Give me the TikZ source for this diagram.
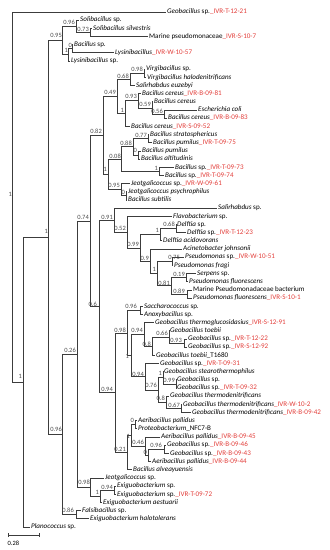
\documentclass[tikz,border=0pt]{standalone}
\usepackage{fontspec}
\setmainfont{Carlito}
\usetikzlibrary{calc}
\definecolor{ivr}{RGB}{226,62,58}
\definecolor{linegray}{RGB}{60,60,60}
\definecolor{bsgray}{RGB}{75,75,75}
\newcommand{\ivr}[1]{\textcolor{ivr}{\_#1}}
\newcommand{\leafnode}[4]{\node[leafbox] (#1) at (#2-1.2,{12+(#3-1)*8.175}) {#4};}
\newcommand{\inode}[4]{%
  \path ($(#3)!0.5!(#4)$) coordinate (#1m) (#2,0) coordinate (#1x);
  \coordinate (#1) at (#1x |- #1m);
  \draw[br] (#1) |- (#3);
  \draw[br] (#1) |- (#4);}
\newcommand{\bslab}[4]{\node[bsbox] (b#1) at (#2,#3) {#4};}
\begin{document}
\begin{tikzpicture}[x=1bp,y=-1bp,
  leafbox/.style={anchor=west,inner xsep=1.2bp,inner ysep=0pt,text height=4.8bp,text depth=1.4bp,font=\fontsize{7.1}{8}\selectfont},
  br/.style={draw=linegray,line width=0.9bp},
  bsbox/.style={anchor=east,inner sep=0pt,text=bsgray,font=\fontsize{6.5}{7}\selectfont}]
\useasboundingbox (0,0) rectangle (329,550);
% leaves
\leafnode{l1}{167}{1}{\textit{Geobacillus} sp.\ivr{IVR-T-12-21}}
\leafnode{l2}{80}{2}{\textit{Solibacillus} sp.}
\leafnode{l3}{93}{3}{\textit{Solibacillus silvestris}}
\leafnode{l4}{149}{4}{Marine pseudomonaceae\ivr{IVR-S-10-7}}
\leafnode{l5}{74}{5}{\textit{Bacillus} sp.}
\leafnode{l6}{115}{6}{\textit{Lysinibacillus}\ivr{IVR-W-10-57}}
\leafnode{l7}{71}{7}{\textit{Lysinibacillus} sp.}
\leafnode{l8}{146}{8}{\textit{Virgibacillus} sp.}
\leafnode{l9}{147}{9}{\textit{Virgibacillus halodenitrificans}}
\leafnode{l10}{136}{10}{\textit{Salirhabdus euzebyi}}
\leafnode{l11}{142}{11}{\textit{Bacillus cereus}\ivr{IVR-B-09-81}}
\leafnode{l12}{154}{12}{\textit{Bacillus cereus}}
\leafnode{l13}{198}{13}{\textit{Escherichia coli}}
\leafnode{l14}{168}{14}{\textit{Bacillus cereus}\ivr{IVR-B-09-83}}
\leafnode{l15}{131}{15}{\textit{Bacillus cereus}\ivr{IVR-S-09-52}}
\leafnode{l16}{150}{16}{\textit{Bacillus stratosphericus}}
\leafnode{l17}{153}{17}{\textit{Bacillus pumilus}\ivr{IVR-T-09-75}}
\leafnode{l18}{142}{18}{\textit{Bacillus pumilus}}
\leafnode{l19}{141}{19}{\textit{Bacillus altitudinis}}
\leafnode{l20}{175}{20}{\textit{Bacillus} sp.\ivr{IVR-T-09-73}}
\leafnode{l21}{165}{21}{\textit{Bacillus} sp.\ivr{IVR-T-09-74}}
\leafnode{l22}{131}{22}{\textit{Jeotgalicoccus} sp.\ivr{IVR-W-09-61}}
\leafnode{l23}{128}{23}{\textit{Jeotgalicoccus psychrophilus}}
\leafnode{l24}{128}{24}{\textit{Bacillus subtilis}}
\leafnode{l25}{218}{25}{\textit{Salirhabdus} sp.}
\leafnode{l26}{173}{26}{\textit{Flavobacterium} sp.}
\leafnode{l27}{177}{27}{\textit{Delftia} sp.}
\leafnode{l28}{187}{28}{\textit{Delftia} sp.\ivr{IVR-T-12-23}}
\leafnode{l29}{163}{29}{\textit{Delftia acidovorans}}
\leafnode{l30}{183}{30}{\textit{Acinetobacter johnsonii}}
\leafnode{l31}{185}{31}{\textit{Pseudomonas} sp.\ivr{IVR-W-10-51}}
\leafnode{l32}{174}{32}{\textit{Pseudomonas fragi}}
\leafnode{l33}{197}{33}{\textit{Serpens} sp.}
\leafnode{l34}{189}{34}{\textit{Pseudomonas fluorescens}}
\leafnode{l35}{193}{35}{Marine Pseudomonadaceae bacterium}
\leafnode{l36}{193}{36}{\textit{Pseudomonas fluorescens}\ivr{IVR-S-10-1}}
\leafnode{l37}{144}{37}{\textit{Saccharococcus} sp.}
\leafnode{l38}{144}{38}{\textit{Anoxybacillus} sp.}
\leafnode{l39}{155}{39}{\textit{Geobacillus thermoglucosidasius}\ivr{IVR-S-12-91}}
\leafnode{l40}{170}{40}{\textit{Geobacillus toebii}}
\leafnode{l41}{188}{41}{\textit{Geobacillus} sp.\ivr{IVR-T-12-22}}
\leafnode{l42}{188}{42}{\textit{Geobacillus} sp.\ivr{IVR-S-12-92}}
\leafnode{l43}{156}{43}{\textit{Geobacillus toebii}\_T1680}
\leafnode{l44}{160}{44}{\textit{Geobacillus} sp.\ivr{IVR-T-09-31}}
\leafnode{l45}{164}{45}{\textit{Geobacillus stearothermophilus}}
\leafnode{l46}{177}{46}{\textit{Geobacillus} sp.}
\leafnode{l47}{177}{47}{\textit{Geobacillus} sp.\ivr{IVR-T-09-32}}
\leafnode{l48}{170}{48}{\textit{Geobacillus thermodenitrificans}}
\leafnode{l49}{183}{49}{\textit{Geobacillus thermodenitrificans}\ivr{IVR-W-10-2}}
\leafnode{l50}{192}{50}{\textit{Geobacillus thermodenitrificans}\ivr{IVR-B-09-42}}
\leafnode{l51}{138}{51}{\textit{Aeribacillus pallidus}}
\leafnode{l52}{138}{52}{\textit{Proteobacterium}\_NFC7-B}
\leafnode{l53}{161}{53}{\textit{Aeribacillus pallidus}\ivr{IVR-B-09-45}}
\leafnode{l54}{167}{54}{\textit{Geobacillus} sp.\ivr{IVR-B-09-46}}
\leafnode{l55}{170}{55}{\textit{Geobacillus} sp.\ivr{IVR-B-09-43}}
\leafnode{l56}{152}{56}{\textit{Aeribacillus pallidus}\ivr{IVR-B-09-44}}
\leafnode{l57}{133}{57}{\textit{Bacillus alveayuensis}}
\leafnode{l58}{105}{58}{\textit{Jeotgalicoccus} sp.}
\leafnode{l59}{117}{59}{\textit{Exiguobacterium} sp.}
\leafnode{l60}{117}{60}{\textit{Exiguobacterium} sp.\ivr{IVR-T-09-72}}
\leafnode{l61}{103}{61}{\textit{Exiguobacterium aestuarii}}
\leafnode{l62}{82}{62}{\textit{Falsibacillus} sp.}
\leafnode{l63}{90}{63}{\textit{Exiguobacterium halotolerans}}
\leafnode{l64}{31}{64}{\textit{Planococcus} sp.}
% internal nodes
\inode{Sola}{90}{l3}{l4}
\inode{Solb}{76}{l2}{Sola}
\inode{Ba}{72}{l5}{l6}
\inode{Bb}{68}{Ba}{l7}
\inode{D}{62}{Solb}{Bb}
\inode{W}{144}{l8}{l9}
\inode{V}{130}{W}{l10}
\inode{Y}{164}{l13}{l14}
\inode{X}{152}{l12}{Y}
\inode{T}{138}{l11}{X}
\inode{U}{125}{T}{l15}
\inode{K}{117}{V}{U}
\inode{P}{148}{l16}{l17}
\inode{Q}{138}{l18}{l19}
\inode{O}{133}{P}{Q}
\inode{R}{159}{l20}{l21}
\inode{M}{121}{O}{R}
\inode{S}{126}{l23}{l24}
\inode{N}{121}{l22}{S}
\inode{L}{108}{M}{N}
\inode{I}{103}{K}{L}
\inode{EE}{176}{l27}{l28}
\inode{CC}{160}{EE}{l29}
\inode{GG}{172}{l31}{l32}
\inode{HH}{186}{l33}{l34}
\inode{II}{187}{l35}{l36}
\inode{JJ}{171}{HH}{II}
\inode{FF}{157}{GG}{JJ}
\inode{DD}{150}{l30}{FF}
\inode{BB}{140}{CC}{DD}
\inode{AA}{127}{l26}{BB}
\inode{Z}{114}{l25}{AA}
\inode{NN}{140}{l37}{l38}
\inode{TT}{184}{l41}{l42}
\inode{SS}{169}{l40}{TT}
\inode{RR}{152}{SS}{l43}
\inode{PP}{144}{l39}{RR}
\inode{XX}{176}{l46}{l47}
\inode{VV}{163}{l45}{XX}
\inode{YY}{181}{l49}{l50}
\inode{WW}{166}{l48}{YY}
\inode{UU}{158}{VV}{WW}
\inode{QQ}{145}{l44}{UU}
\inode{OO}{131}{PP}{QQ}
\inode{LL}{127}{NN}{OO}
\inode{AB}{135}{l51}{l52}
\inode{AD}{164}{l54}{l55}
\inode{AG}{148}{AD}{l56}
\inode{AC}{145}{l53}{AG}
\inode{ZZ}{131}{AB}{AC}
\inode{MM}{127}{ZZ}{l57}
\inode{KK}{115}{LL}{MM}
\inode{J}{99}{Z}{KK}
\inode{H}{90}{I}{J}
\inode{AF}{114}{l59}{l60}
\inode{AE}{100}{AF}{l61}
\inode{G}{90}{l58}{AE}
\inode{Fal}{76}{l62}{l63}
\inode{F}{77}{H}{G}
\inode{E}{62}{F}{Fal}
\inode{C}{48}{D}{E}
\inode{A}{23}{C}{l64}
\inode{root}{12}{l1}{A}
% support labels
\bslab{root}{12}{194}{1}
\bslab{A}{22}{376}{1}
\bslab{C}{48}{231}{1}
\bslab{D}{62}{35}{0.95}
\bslab{Solb}{75}{22.5}{0.96}
\bslab{Sola}{89}{29}{0.73}
\bslab{Ba}{72}{45}{0}
\bslab{Bb}{68}{50}{1}
\bslab{W}{143}{69}{0.98}
\bslab{V}{129}{76}{0.68}
\bslab{K}{116}{92}{0.49}
\bslab{T}{137}{96.5}{0.93}
\bslab{X}{151}{104}{0.59}
\bslab{Y}{163}{111}{0.56}
\bslab{U}{124}{110}{1}
\bslab{I}{102}{131.5}{0.82}
\bslab{P}{147}{135}{0.77}
\bslab{O}{132}{143}{0.88}
\bslab{Q}{137}{150.5}{0}
\bslab{M}{121}{156}{0.08}
\bslab{R}{158}{168}{1}
\bslab{L}{107}{169.5}{1}
\bslab{N}{120}{185}{0.95}
\bslab{S}{125}{192.5}{0}
\bslab{H}{89}{217}{0.74}
\bslab{Z}{113}{217}{0.91}
\bslab{AA}{126}{228}{0.52}
\bslab{EE}{175}{224}{0.68}
\bslab{CC}{159}{230}{1}
\bslab{BB}{139}{244.5}{0.99}
\bslab{DD}{149}{258}{0.9}
\bslab{GG}{180}{257.5}{0.75}
\bslab{FF}{156}{269}{1}
\bslab{HH}{185}{274}{0.19}
\bslab{JJ}{170}{283}{0.81}
\bslab{II}{185}{291}{0.89}
\bslab{J}{97}{304}{0.6}
\bslab{NN}{137}{306}{0.96}
\bslab{LL}{126}{330}{0.98}
\bslab{PP}{143}{330}{0.94}
\bslab{SS}{168}{333}{0.66}
\bslab{TT}{182}{340}{0.93}
\bslab{RR}{151}{344}{0.8}
\bslab{F}{76}{350}{0.26}
\bslab{OO}{129}{356}{1}
\bslab{QQ}{144}{374}{0.94}
\bslab{VV}{162}{373}{1}
\bslab{XX}{175}{380}{0.99}
\bslab{UU}{157}{385}{0.76}
\bslab{KK}{113}{389}{0.94}
\bslab{WW}{165}{398}{0.8}
\bslab{YY}{180}{405}{0.67}
\bslab{AB}{134}{420}{0}
\bslab{ZZ}{130}{436}{1}
\bslab{AC}{144}{442}{0.46}
\bslab{AD}{162}{445}{0.96}
\bslab{MM}{126}{449}{0.21}
\bslab{AG}{147}{452.5}{0}
\bslab{E}{62}{429.5}{0.96}
\bslab{G}{90}{482}{0.98}
\bslab{AF}{113}{487}{0.94}
\bslab{AE}{99}{492.5}{1}
\bslab{Fal}{74}{510}{0.86}
% scale bar
\coordinate (sba) at (8,535);
\coordinate (sbb) at (39,535);
\draw[br] (sba) -- (sbb);
\draw[br] ([yshift=-2bp]sba) -- ([yshift=2bp]sba);
\draw[br] ([yshift=-2bp]sbb) -- ([yshift=2bp]sbb);
\node[anchor=west,inner sep=0pt,font=\fontsize{6.5}{7}\selectfont] (sbl) at (7.5,543) {0.28};
\end{tikzpicture}
\end{document}
